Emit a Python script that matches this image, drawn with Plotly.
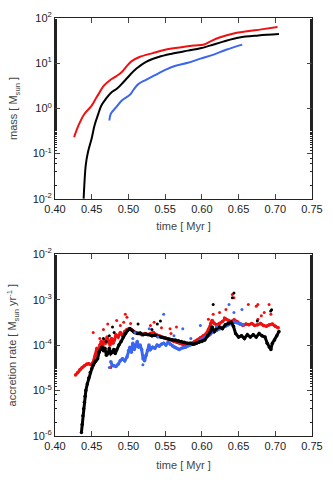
import plotly.graph_objects as go

# --- top panel: sink mass vs time ---
red_mass_t = [0.426, 0.432, 0.440, 0.450, 0.456, 0.461, 0.466, 0.474, 0.483, 0.491, 0.498, 0.504,
              0.515, 0.533, 0.550, 0.572, 0.589, 0.603, 0.611, 0.624, 0.642, 0.659, 0.681, 0.703]
red_mass = [0.23, 0.42, 0.75, 1.15, 1.7, 2.3, 3.1, 4.1, 5.1, 6.4, 8.7, 11,
            13.7, 16.7, 19.8, 22.5, 24.5, 26, 30, 37, 45, 50, 56, 63]

black_mass_t = [0.439, 0.442, 0.445, 0.450, 0.454, 0.459, 0.463, 0.469, 0.476, 0.485, 0.493, 0.502,
                0.511, 0.524, 0.541, 0.559, 0.581, 0.598, 0.611, 0.629, 0.651, 0.677, 0.705]
black_mass = [0.01, 0.058, 0.11, 0.22, 0.43, 0.76, 1.15, 1.6, 2.2, 2.8, 3.8, 5.5,
              7.6, 10.7, 13.7, 16.2, 19, 21.4, 24.5, 30, 37, 41, 44]

blue_mass_t = [0.474, 0.476, 0.483, 0.491, 0.502, 0.507, 0.513, 0.524, 0.537, 0.550, 0.563,
               0.581, 0.598, 0.616, 0.633, 0.655]
blue_mass = [0.54, 0.76, 1.05, 1.5, 2.0, 2.6, 3.4, 4.3, 5.5, 7.1, 8.7,
             10.2, 12.6, 15.5, 19.8, 25.8]

mass_tickvals = [0.01, 0.1, 1, 10, 100]
mass_ticktext = ["10<sup>-2</sup>", "10<sup>-1</sup>", "10<sup>0</sup>", "10<sup>1</sup>", "10<sup>2</sup>"]

# --- bottom panel: accretion rate vs time ---
red_rate_t = [0.428, 0.431, 0.434, 0.437, 0.440, 0.443, 0.446, 0.449, 0.452, 0.455, 0.457, 0.459,
              0.461, 0.463, 0.465, 0.467, 0.469, 0.471, 0.473, 0.475, 0.477, 0.479, 0.481, 0.483,
              0.486, 0.489, 0.492, 0.495, 0.498, 0.501, 0.504, 0.507, 0.510, 0.514, 0.518, 0.522,
              0.526, 0.530, 0.534, 0.538, 0.542, 0.546, 0.550, 0.554, 0.558, 0.562, 0.566, 0.570,
              0.574, 0.578, 0.582, 0.586, 0.590, 0.594, 0.598, 0.602, 0.606, 0.609, 0.612, 0.614,
              0.617, 0.620, 0.624, 0.628, 0.632, 0.636, 0.640, 0.644, 0.648, 0.652, 0.656, 0.660,
              0.664, 0.668, 0.672, 0.676, 0.680, 0.684, 0.688, 0.692, 0.696, 0.700, 0.704]
red_rate = [2.2e-5, 2.5e-5, 2.9e-5, 3.2e-5, 3.5e-5, 3.8e-5, 3.9e-5, 3.7e-5, 4.2e-5, 6.0e-5, 8.5e-5, 7.5e-5,
            1.0e-4, 1.2e-4, 9.0e-5, 1.3e-4, 1.1e-4, 1.5e-4, 1.2e-4, 1.0e-4, 1.4e-4, 1.1e-4, 1.3e-4, 1.7e-4,
            1.5e-4, 1.9e-4, 1.6e-4, 2.0e-4, 2.2e-4, 2.3e-4, 2.2e-4, 2.0e-4, 1.9e-4, 1.8e-4, 1.7e-4, 1.8e-4,
            1.7e-4, 1.8e-4, 1.9e-4, 1.7e-4, 1.6e-4, 1.5e-4, 1.45e-4, 1.35e-4, 1.3e-4, 1.2e-4, 1.15e-4, 1.1e-4,
            1.05e-4, 1.0e-4, 1.05e-4, 1.1e-4, 1.2e-4, 1.3e-4, 1.45e-4, 1.6e-4, 1.8e-4, 2.2e-4, 3.0e-4, 3.5e-4,
            3.0e-4, 2.8e-4, 3.0e-4, 3.3e-4, 3.8e-4, 3.5e-4, 3.3e-4, 3.6e-4, 3.3e-4, 2.9e-4, 2.7e-4, 2.9e-4,
            2.8e-4, 3.0e-4, 2.7e-4, 2.8e-4, 3.0e-4, 2.7e-4, 2.6e-4, 2.8e-4, 2.9e-4, 2.6e-4, 2.4e-4]
red_out_t = [0.452, 0.4957, 0.498, 0.4936, 0.489, 0.4718, 0.461, 0.476, 0.535, 0.530, 0.5567, 0.5654,
             0.558, 0.6089, 0.6154, 0.6241, 0.6306, 0.6328, 0.6415, 0.6437, 0.6633, 0.6741, 0.6763,
             0.6915, 0.685, 0.694, 0.681, 0.6763, 0.466, 0.484, 0.503, 0.545]
red_out = [1.9e-4, 4.8e-4, 4.1e-4, 3.2e-4, 2.7e-4, 2.9e-4, 1.4e-4, 3.2e-5, 3.2e-4, 2.7e-4, 2.3e-4, 2.5e-4,
           1.8e-4, 3.7e-4, 4.8e-4, 5.2e-4, 4.0e-4, 6.1e-4, 1.3e-3, 1.1e-3, 7.8e-4, 7.2e-4, 7.8e-4,
           7.8e-4, 5.2e-4, 4.8e-4, 4.4e-4, 3.7e-4, 2.2e-4, 3.5e-4, 3.0e-4, 2.4e-4]

black_rate_t = [0.436, 0.437, 0.438, 0.439, 0.440, 0.441, 0.442, 0.444, 0.446, 0.448, 0.450, 0.452,
                0.454, 0.456, 0.458, 0.460, 0.462, 0.464, 0.466, 0.468, 0.470, 0.472, 0.474, 0.476,
                0.478, 0.480, 0.482, 0.484, 0.487, 0.490, 0.493, 0.496, 0.499, 0.502, 0.505, 0.508,
                0.512, 0.516, 0.520, 0.524, 0.528, 0.532, 0.536, 0.540, 0.544, 0.548, 0.552, 0.556,
                0.560, 0.564, 0.568, 0.572, 0.576, 0.580, 0.584, 0.588, 0.592, 0.596, 0.600, 0.604,
                0.608, 0.611, 0.614, 0.617, 0.620, 0.624, 0.628, 0.632, 0.636, 0.640, 0.643, 0.646,
                0.650, 0.654, 0.658, 0.662, 0.666, 0.670, 0.674, 0.678, 0.682, 0.686, 0.689, 0.692,
                0.694, 0.696, 0.699, 0.702, 0.705]
black_rate = [1.2e-6, 1.8e-6, 2.8e-6, 4.0e-6, 5.5e-6, 7.5e-6, 1.0e-5, 1.4e-5, 1.9e-5, 2.5e-5, 3.0e-5, 3.6e-5,
              4.2e-5, 4.6e-5, 5.0e-5, 7.0e-5, 8.0e-5, 9.0e-5, 7.5e-5, 8.5e-5, 6.0e-5, 6.5e-5, 8.5e-5, 6.5e-5,
              7.0e-5, 8.0e-5, 6.5e-5, 8.0e-5, 1.0e-4, 1.2e-4, 1.5e-4, 1.8e-4, 2.1e-4, 2.3e-4, 2.1e-4, 1.9e-4,
              1.8e-4, 1.85e-4, 1.7e-4, 1.75e-4, 1.7e-4, 1.6e-4, 1.65e-4, 1.55e-4, 1.5e-4, 1.45e-4, 1.4e-4, 1.35e-4,
              1.3e-4, 1.3e-4, 1.25e-4, 1.2e-4, 1.15e-4, 1.1e-4, 1.1e-4, 1.05e-4, 1.1e-4, 1.15e-4, 1.2e-4, 1.3e-4,
              1.6e-4, 1.9e-4, 2.5e-4, 2.0e-4, 2.3e-4, 2.5e-4, 2.3e-4, 2.8e-4, 3.0e-4, 3.2e-4, 2.6e-4, 1.8e-4,
              1.5e-4, 1.6e-4, 1.4e-4, 1.7e-4, 1.5e-4, 1.7e-4, 1.5e-4, 1.8e-4, 1.6e-4, 1.5e-4, 1.1e-4, 9.0e-5,
              8.0e-5, 1.1e-4, 1.3e-4, 1.6e-4, 2.0e-4]
black_out_t = [0.6437, 0.6415, 0.6154, 0.5436, 0.5393, 0.5131, 0.4805, 0.4783, 0.4696, 0.6937, 0.695,
               0.6755, 0.466, 0.474, 0.532]
black_out = [1.4e-3, 1.1e-3, 7.8e-4, 3.4e-4, 2.9e-4, 2.9e-4, 1.9e-4, 2.5e-4, 1.2e-4, 5.6e-4, 6.0e-4,
             3.4e-4, 1.4e-4, 1.6e-4, 2.2e-4]

blue_rate_t = [0.476, 0.478, 0.480, 0.483, 0.486, 0.489, 0.492, 0.495, 0.498, 0.500, 0.502, 0.504,
               0.506, 0.508, 0.510, 0.512, 0.514, 0.516, 0.518, 0.520, 0.522, 0.524, 0.526, 0.528,
               0.530, 0.533, 0.536, 0.539, 0.542, 0.545, 0.548, 0.551, 0.554, 0.557, 0.560, 0.563,
               0.566, 0.569, 0.572, 0.575, 0.578, 0.581, 0.584, 0.587, 0.590, 0.593, 0.596, 0.599,
               0.602, 0.605, 0.608, 0.611, 0.614, 0.617, 0.620, 0.624, 0.628, 0.632, 0.636, 0.640,
               0.644, 0.648, 0.652, 0.656]
blue_rate = [4.3e-5, 3.6e-5, 3.5e-5, 3.4e-5, 3.8e-5, 4.6e-5, 5.0e-5, 4.5e-5, 5.5e-5, 7.5e-5, 9.0e-5, 7.0e-5,
             1.1e-4, 8.0e-5, 9.5e-5, 1.2e-4, 9.0e-5, 1.0e-4, 8.0e-5, 5.0e-5, 4.5e-5, 6.0e-5, 7.5e-5, 1.0e-4,
             8.0e-5, 9.0e-5, 8.5e-5, 1.0e-4, 9.5e-5, 1.05e-4, 1.1e-4, 1.0e-4, 1.15e-4, 1.05e-4, 9.5e-5, 9.0e-5,
             8.5e-5, 8.0e-5, 8.5e-5, 8.8e-5, 9.0e-5, 9.5e-5, 1.0e-4, 1.05e-4, 1.05e-4, 1.1e-4, 1.2e-4, 1.3e-4,
             1.4e-4, 1.5e-4, 1.6e-4, 1.7e-4, 1.9e-4, 2.0e-4, 2.1e-4, 2.3e-4, 2.4e-4, 2.6e-4, 2.8e-4, 3.0e-4,
             3.2e-4, 3.1e-4, 2.9e-4, 2.8e-4]
blue_out_t = [0.548, 0.5197, 0.474, 0.637, 0.6546, 0.6437, 0.598, 0.574, 0.5088, 0.506, 0.5283, 0.540,
              0.562, 0.585, 0.620]
blue_out = [4.8e-4, 3.7e-5, 3.2e-5, 7.8e-4, 6.1e-4, 5.2e-4, 2.7e-4, 2.3e-4, 1.9e-4, 1.4e-4, 2.3e-4, 1.5e-4,
            1.6e-4, 1.4e-4, 2.6e-4]

rate_tickvals = [1e-6, 1e-5, 1e-4, 1e-3, 1e-2]
rate_ticktext = ["10<sup>-6</sup>", "10<sup>-5</sup>", "10<sup>-4</sup>", "10<sup>-3</sup>", "10<sup>-2</sup>"]

time_tickvals = [0.40, 0.45, 0.50, 0.55, 0.60, 0.65, 0.70, 0.75]
time_ticktext = ["0.40", "0.45", "0.50", "0.55", "0.60", "0.65", "0.70", "0.75"]

RED = "#f01010"
BLUE = "#3a66f0"
BLACK = "#000000"

fig = go.Figure()

# top panel lines
for t, m, c in [(blue_mass_t, blue_mass, BLUE), (black_mass_t, black_mass, BLACK), (red_mass_t, red_mass, RED)]:
    fig.add_trace(go.Scatter(x=t, y=m, mode="lines", line=dict(color=c, width=2, shape="spline"),
                             xaxis="x", yaxis="y", showlegend=False))

# bottom panel: dense bands + scattered points
for t, r, c in [(red_rate_t, red_rate, RED), (blue_rate_t, blue_rate, BLUE), (black_rate_t, black_rate, BLACK)]:
    fig.add_trace(go.Scatter(x=t, y=r, mode="lines+markers", line=dict(color=c, width=3),
                             marker=dict(color=c, size=3.5), xaxis="x2", yaxis="y2", showlegend=False))
for t, r, c in [(red_out_t, red_out, RED), (blue_out_t, blue_out, BLUE), (black_out_t, black_out, BLACK)]:
    fig.add_trace(go.Scatter(x=t, y=r, mode="markers", marker=dict(color=c, size=3),
                             xaxis="x2", yaxis="y2", showlegend=False))

font = dict(family="Liberation Sans, Arial, sans-serif", size=11, color="#222")
tfont = dict(family="Liberation Sans, Arial, sans-serif", size=11, color="#444")
xcommon = dict(range=[0.40, 0.75], tickvals=time_tickvals, ticktext=time_ticktext,
               ticks="inside", ticklen=5, showline=True, linecolor="#222", linewidth=1,
               mirror="ticks", showgrid=False, zeroline=False, tickfont=font)
ycommon = dict(type="log", ticks="inside", ticklen=5,
               minor=dict(ticks="inside", ticklen=2, tickcolor="#222", showgrid=False),
               showline=True, linecolor="#222", linewidth=1, mirror="ticks", showgrid=False,
               tickfont=font)

fig.update_layout(
    width=333, height=480,
    margin=dict(l=55, r=10, t=10, b=40),
    plot_bgcolor="white", paper_bgcolor="white",
    font=font,
    xaxis=dict(xcommon, domain=[0, 1], anchor="y",
               title=dict(text="time [ Myr ]", font=tfont, standoff=8)),
    yaxis=dict(ycommon, domain=[0.5674, 1.0], range=[-2, 2], anchor="x",
               tickvals=mass_tickvals, ticktext=mass_ticktext,
               title=dict(text="mass [ M<sub>sun</sub> ]", font=tfont, standoff=12)),
    xaxis2=dict(xcommon, domain=[0, 1], anchor="y2",
                title=dict(text="time [ Myr ]", font=tfont, standoff=10)),
    yaxis2=dict(ycommon, domain=[0, 0.4349], range=[-6, -2], anchor="x2",
                tickvals=rate_tickvals, ticktext=rate_ticktext,
                title=dict(text="accretion rate [ M<sub>sun</sub> yr<sup>-1</sup> ]", font=tfont, standoff=13)),
)

# the page body has a default 8px margin; drop it so the figure sits at the window origin
fig.write_html("out.html", config={"displayModeBar": False},
               post_script="document.body.style.margin='0';")
